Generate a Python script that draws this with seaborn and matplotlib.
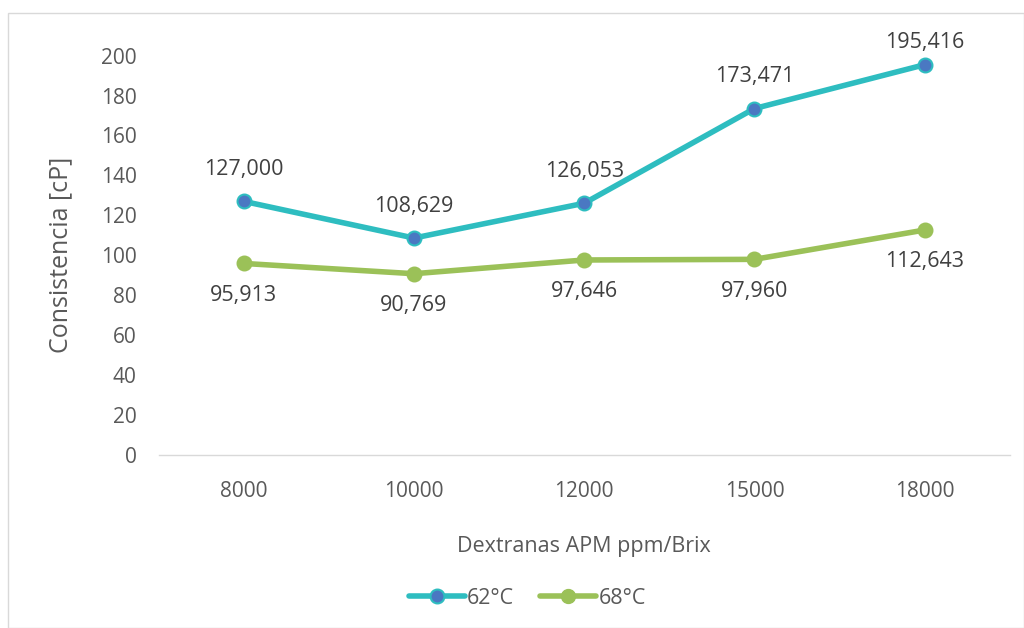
import matplotlib
matplotlib.use("Agg")
import matplotlib.pyplot as plt
import matplotlib.patches as mpatches
from matplotlib.lines import Line2D
import seaborn as sns
import pandas as pd

categories = ["8000", "10000", "12000", "15000", "18000"]
series_62 = [127.000, 108.629, 126.053, 173.471, 195.416]
series_68 = [95.913, 90.769, 97.646, 97.960, 112.643]
labels_62 = ["127,000", "108,629", "126,053", "173,471", "195,416"]
labels_68 = ["95,913", "90,769", "97,646", "97,960", "112,643"]
yticks = [0, 20, 40, 60, 80, 100, 120, 140, 160, 180, 200]

sns.set_theme(style="white")
plt.rcParams["font.family"] = ["Open Sans", "DejaVu Sans"]

TEXT = "#595959"
LABEL = "#404040"
TEAL = "#2EBDC0"
BLUE = "#4A78C2"
GREEN = "#9BC158"

df = pd.DataFrame({
    "Dextranas": categories * 2,
    "valor": series_62 + series_68,
    "serie": ["62°C"] * 5 + ["68°C"] * 5,
})

fig = plt.figure(figsize=(10.24, 6.28), dpi=100)
ax = fig.add_axes([0.155, 0.2755, 0.831, 0.636])

sns.lineplot(data=df[df.serie == "62°C"], x="Dextranas", y="valor", ax=ax,
             color=TEAL, linewidth=4, marker="o", markersize=10,
             markerfacecolor=BLUE, markeredgecolor=TEAL, markeredgewidth=1.5,
             sort=False, legend=False, clip_on=False)
sns.lineplot(data=df[df.serie == "68°C"], x="Dextranas", y="valor", ax=ax,
             color=GREEN, linewidth=4, marker="o", markersize=10,
             markerfacecolor=GREEN, markeredgecolor=GREEN, markeredgewidth=1.5,
             sort=False, legend=False, clip_on=False)

# labels above the 62°C points; the topmost one is nudged down to stay inside the chart
for i, (v, lab) in enumerate(zip(series_62, labels_62)):
    dy = 16 if i == len(series_62) - 1 else 23
    ax.annotate(lab, (i, v), xytext=(0, dy), textcoords="offset points",
                ha="center", va="center", fontsize=15.5, color=LABEL)
for i, (v, lab) in enumerate(zip(series_68, labels_68)):
    ax.annotate(lab, (i, v), xytext=(0, -23), textcoords="offset points",
                ha="center", va="center", fontsize=15.5, color=LABEL)

ax.set_xlim(-0.5, 4.5)
ax.set_ylim(0, 200)
ax.set_yticks(yticks)
ax.tick_params(axis="both", colors=TEXT, labelsize=15, length=0)
ax.tick_params(axis="x", pad=19)
ax.tick_params(axis="y", pad=16)
for side in ["top", "right", "left"]:
    ax.spines[side].set_visible(False)
ax.spines["bottom"].set_color("#D9D9D9")
ax.spines["bottom"].set_linewidth(1)
ax.grid(False)

ax.set_xlabel("Dextranas APM ppm/Brix", fontsize=15.5, color=TEXT, labelpad=24)
ax.set_ylabel("Consistencia [cP]", fontsize=18, color=TEXT, labelpad=20)

handles = [
    Line2D([0], [0], color=TEAL, linewidth=4, marker="o", markersize=10,
           markerfacecolor=BLUE, markeredgecolor=TEAL, markeredgewidth=1.5),
    Line2D([0], [0], color=GREEN, linewidth=4, marker="o", markersize=10,
           markerfacecolor=GREEN, markeredgecolor=GREEN),
]
fig.legend(handles, ["62°C", "68°C"], loc="center", bbox_to_anchor=(0.515, 0.047),
           ncol=2, frameon=False, fontsize=15.5, labelcolor=TEXT,
           handlelength=2.6, handletextpad=0.1, columnspacing=1.2)

fig.patches.append(mpatches.Rectangle((8 / 1024, 0), 1 - 8 / 1024, 1 - 13 / 628,
                                      transform=fig.transFigure, fill=False,
                                      edgecolor="#D9D9D9", linewidth=1))

fig.savefig("out.png", dpi=100, facecolor="white")
